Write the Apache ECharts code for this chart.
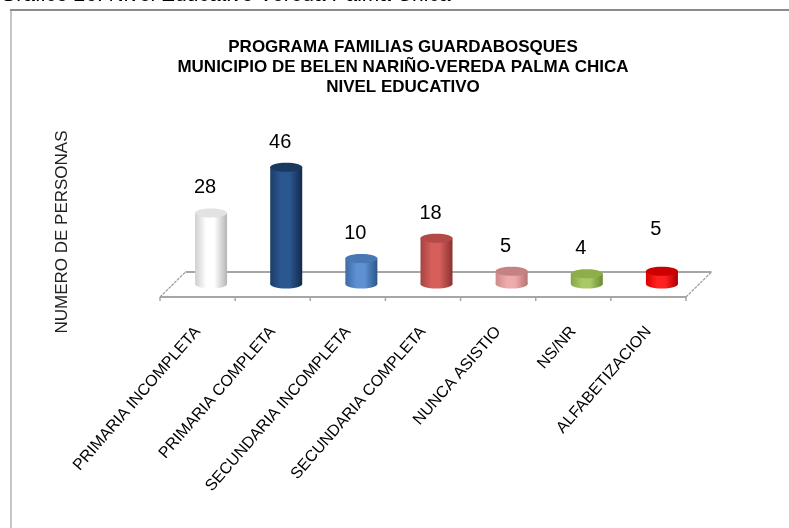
<!DOCTYPE html>
<html>
<head>
<meta charset="utf-8">
<script src="https://cdn.jsdelivr.net/npm/echarts@6/dist/echarts.min.js"></script>
<style>
  html, body { margin: 0; padding: 0; background: #fff; }
  #chartMain { width: 789px; height: 528px; }
</style>
</head>
<body>
<div id="chartMain"></div>
<script>
// categorias y valores
const categories = ['PRIMARIA INCOMPLETA', 'PRIMARIA COMPLETA', 'SECUNDARIA INCOMPLETA',
  'SECUNDARIA COMPLETA', 'NUNCA ASISTIO', 'NS/NR', 'ALFABETIZACION'];
const personas = [28, 46, 10, 18, 5, 4, 5];

const titleLines = ['PROGRAMA FAMILIAS GUARDABOSQUES',
  'MUNICIPIO DE BELEN NARIÑO-VEREDA PALMA CHICA', 'NIVEL EDUCATIVO'];
const yName = 'NUMERO DE PERSONAS';
const caption = 'Gráfico 26. Nivel Educativo Vereda Palma Chica';

// colores de cada cilindro: [borde izq, brillo, borde der, tapa]
const barColors = [
  ['#cfcfcf', '#ffffff', '#b5b5b5', '#e2e2e2'],
  ['#1b3e6a', '#2b5791', '#122a4a', '#1a3860'],
  ['#3d6ba5', '#5d91d1', '#2c568a', '#4877b3'],
  ['#a64341', '#d65f5c', '#8a3230', '#b34a47'],
  ['#cc8a8a', '#efabab', '#b27474', '#c48282'],
  ['#86a44a', '#a9c965', '#6c8934', '#8eae4c'],
  ['#dd0000', '#ff2020', '#aa0000', '#cc0000']
];

const myChart = echarts.init(document.getElementById('chartMain'));

const BAR_W = 32;
const RY = 4.5;

function cylinder(params, api) {
  const i = params.dataIndex;
  const top = api.coord([i, api.value(1)]);
  const base = api.coord([i, 0]);
  const c = barColors[i];
  const grad = new echarts.graphic.LinearGradient(0, 0, 1, 0, [
    { offset: 0, color: c[0] },
    { offset: 0.35, color: c[1] },
    { offset: 0.6, color: c[1] },
    { offset: 1, color: c[2] }
  ]);
  const x0 = top[0] - BAR_W / 2;
  const lift = i === personas.length - 1 ? 17 : 0;
  return {
    type: 'group',
    children: [
      { type: 'ellipse', shape: { cx: top[0], cy: base[1], rx: BAR_W / 2, ry: RY }, style: { fill: grad } },
      { type: 'rect', shape: { x: x0, y: top[1], width: BAR_W, height: base[1] - top[1] }, style: { fill: grad } },
      { type: 'ellipse', shape: { cx: top[0], cy: top[1], rx: BAR_W / 2, ry: RY }, style: { fill: c[3] } },
      {
        type: 'text', x: top[0] - 6, y: top[1] - 25 - lift,
        style: { text: String(api.value(1)), align: 'center', verticalAlign: 'middle',
          font: '20px "Liberation Sans", Arial, sans-serif', fill: '#000' }
      }
    ]
  };
}

function floor(params, api) {
  const cs = params.coordSys;
  const y0 = api.coord([0, 0])[1];
  const step = cs.width / categories.length;
  const fl = cs.x - 13.5, fr = cs.x + cs.width - 13.5, fy = y0 + 13;
  const bl = cs.x + 12, br = cs.x + cs.width + 12, by = y0 - 12;
  const line = { stroke: '#a6a6a6', lineWidth: 2 };
  const children = [
    { type: 'line', shape: { x1: bl, y1: by, x2: br, y2: by }, style: line },
    { type: 'line', shape: { x1: fl, y1: fy, x2: fr, y2: fy }, style: line },
    { type: 'line', shape: { x1: fl, y1: fy, x2: bl, y2: by }, style: { stroke: '#9a9a9a', lineWidth: 1.2, lineDash: [3, 1] } },
    { type: 'line', shape: { x1: fr, y1: fy, x2: br, y2: by }, style: { stroke: '#9a9a9a', lineWidth: 1.2, lineDash: [3, 1] } }
  ];
  for (let k = 0; k <= categories.length; k++) {
    const tx = fl + k * step;
    children.push({ type: 'line', shape: { x1: tx, y1: fy, x2: tx, y2: fy + 4 }, style: { stroke: '#a6a6a6', lineWidth: 1.5 } });
  }
  return { type: 'group', children: children };
}

myChart.setOption({
  backgroundColor: '#fff',
  animation: false,
  grid: [
    { left: 173.5, width: 526, top: 157, bottom: 244 },
    // borde frontal del piso, solo para las etiquetas
    { left: 160, width: 526, top: 157, bottom: 244 }
  ],
  xAxis: [
    { type: 'category', data: categories, gridIndex: 0, show: false },
    {
      type: 'category', data: categories, gridIndex: 1,
      axisLine: { show: false },
      axisTick: { show: false },
      axisLabel: {
        interval: 0, rotate: 49, margin: 45,
        fontFamily: '"Liberation Sans", Arial, sans-serif', fontSize: 16, color: '#000'
      }
    }
  ],
  yAxis: [
    { type: 'value', min: 0, max: 50, show: false, gridIndex: 0 },
    { type: 'value', min: 0, max: 50, show: false, gridIndex: 1 }
  ],
  graphic: [
    { type: 'text', left: 0, top: -15, style: { text: caption, font: '21px "Liberation Sans", Arial, sans-serif', fill: '#000' } },
    { type: 'line', shape: { x1: 10, y1: 10, x2: 789, y2: 10 }, style: { stroke: '#8c8c8c', lineWidth: 2 } },
    { type: 'line', shape: { x1: 11, y1: 10, x2: 11, y2: 528 }, style: { stroke: '#8c8c8c', lineWidth: 1 } },
    {
      type: 'text', x: 403, y: 37,
      style: { text: titleLines.join('\n'), align: 'center', verticalAlign: 'top', lineHeight: 20,
        font: 'bold 17px "Liberation Sans", Arial, sans-serif', fill: '#000' }
    },
    {
      type: 'text', x: 62, y: 232, rotation: Math.PI / 2,
      style: { text: yName, align: 'center', verticalAlign: 'middle',
        font: '17px "Liberation Sans", Arial, sans-serif', fill: '#222' }
    }
  ],
  series: [
    { type: 'custom', renderItem: floor, clip: false, data: [[0, 0]], silent: true, z: 1 },
    { type: 'custom', renderItem: cylinder, clip: false, z: 2,
      data: personas.map((v, i) => [i, v]) }
  ]
});
</script>
</body>
</html>
